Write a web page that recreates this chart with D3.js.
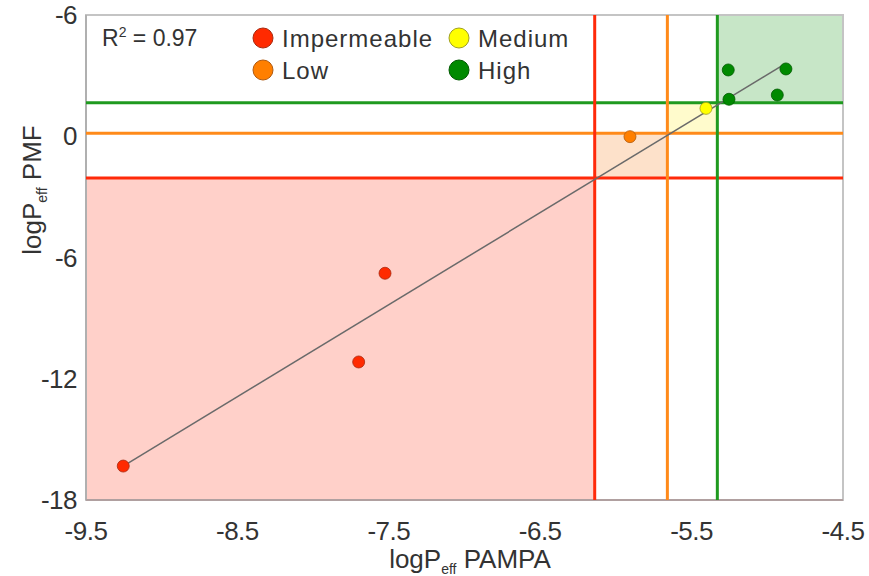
<!DOCTYPE html>
<html><head><meta charset="utf-8">
<script src="https://cdn.jsdelivr.net/npm/d3@7"></script>
<style>
body{margin:0;background:#fff;}
text{font-family:"Liberation Sans",Arial,sans-serif;fill:#333;}
</style></head>
<body><svg id="c" width="869" height="576"></svg>
<script>
// ---- data ----
const xTicks = [-9.5, -8.5, -7.5, -6.5, -5.5, -4.5];
const xTickLabels = ["-9.5", "-8.5", "-7.5", "-6.5", "-5.5", "-4.5"];
const yTicks = [6, 0, -6, -12, -18];
const yTickLabels = ["-6", "0", "-6", "-12", "-18"];
const classes = ["Impermeable", "Low", "Medium", "High"];
const classColors = ["#ff2a00", "#ff7f00", "#ffff00", "#008a00"];
const thresholdX = [-6.14, -5.66, -5.33];   // red, orange, green
const thresholdY = [-2.07, 0.15, 1.66];     // red, orange, green
const pampaX = [-9.254, -7.699, -7.525, -5.907, -5.405, -5.258, -4.877, -5.253, -4.934];
const pmfY   = [-16.32, -11.17, -6.78, -0.02, 1.38, 3.28, 3.33, 1.83, 2.04];
const pointClass = [0, 0, 0, 1, 2, 3, 3, 3, 3];
const fitX = [-9.254, -4.883];
const fitY = [-16.32, 3.58];
const r2Label = "0.97";

// ---- layout ----
const svg = d3.select("#c");
const L = 86, R = 843, T = 15, B = 500;
const x = d3.scaleLinear().domain([-9.5, -4.5]).range([L, R]);
const y = d3.scaleLinear().domain([-18, 6]).range([B, T]);

const fillColors = ["#ffd0c9", "#fde1ca", "#fffbcc", "#c7e6c7"];
const lineColors = ["#ff2a0a", "#ff8a1a", "#1f9a1f"];
const strokeColors = ["#a82a10", "#b05a10", "#a0a020", "#005a00"];

// region fills
const regions = [
  {x0: -9.5, x1: thresholdX[0], y0: -18, y1: thresholdY[0]},
  {x0: thresholdX[0], x1: thresholdX[1], y0: thresholdY[0], y1: thresholdY[1]},
  {x0: thresholdX[1], x1: thresholdX[2], y0: thresholdY[1], y1: thresholdY[2]},
  {x0: thresholdX[2], x1: -4.5, y0: thresholdY[2], y1: 6}
];
svg.append("g").selectAll("rect").data(regions).join("rect")
  .attr("x", d => x(d.x0)).attr("width", d => x(d.x1) - x(d.x0))
  .attr("y", d => y(d.y1)).attr("height", d => y(d.y0) - y(d.y1))
  .attr("fill", (d, i) => fillColors[i]);

// frame
svg.append("rect").attr("x", L).attr("y", T).attr("width", R - L).attr("height", B - T)
  .attr("fill", "none").attr("stroke", "#c4c4c4").attr("stroke-width", 2);
svg.append("line").attr("x1", L).attr("x2", L).attr("y1", T).attr("y2", B)
  .attr("stroke", "#b0b0b0").attr("stroke-width", 2);
svg.append("line").attr("x1", L).attr("x2", R).attr("y1", B).attr("y2", B)
  .attr("stroke", "#b0a0a0").attr("stroke-width", 2);

// threshold lines
const g = svg.append("g");
thresholdY.forEach((v, i) => {
  g.append("line").attr("x1", L).attr("x2", R).attr("y1", y(v)).attr("y2", y(v))
    .attr("stroke", lineColors[i]).attr("stroke-width", 3);
});
thresholdX.forEach((v, i) => {
  g.append("line").attr("y1", T).attr("y2", B).attr("x1", x(v)).attr("x2", x(v))
    .attr("stroke", lineColors[i]).attr("stroke-width", 3);
});

// regression line
svg.append("path")
  .datum(fitX.map((d, i) => [d, fitY[i]]))
  .attr("d", d3.line().x(d => x(d[0])).y(d => y(d[1])))
  .attr("stroke", "#6a6a6a").attr("stroke-width", 1.5).attr("fill", "none");

// points
svg.append("g").selectAll("circle").data(pampaX.map((d, i) => ({x: d, y: pmfY[i], c: pointClass[i]})))
  .join("circle")
  .attr("cx", d => x(d.x)).attr("cy", d => y(d.y)).attr("r", 6)
  .attr("fill", d => classColors[d.c]).attr("stroke", d => strokeColors[d.c]).attr("stroke-width", 0.8);

// axes tick labels
svg.append("g").selectAll("text").data(xTicks).join("text")
  .attr("x", d => x(d)).attr("y", 540).attr("text-anchor", "middle")
  .attr("font-size", 26).attr("letter-spacing", -0.5)
  .text((d, i) => xTickLabels[i]);
svg.append("g").selectAll("text").data(yTicks).join("text")
  .attr("x", 77).attr("y", d => y(d) + 9).attr("text-anchor", "end")
  .attr("font-size", 26).attr("letter-spacing", -0.5)
  .text((d, i) => yTickLabels[i]);

// axis titles
const xt = svg.append("text").attr("x", 470).attr("y", 568).attr("text-anchor", "middle").attr("font-size", 26);
xt.append("tspan").text("logP");
xt.append("tspan").attr("font-size", 14).attr("dy", 6).text("eff");
xt.append("tspan").attr("dy", -6).text(" PAMPA");

const yt = svg.append("text").attr("transform", "translate(41,190) rotate(-90)")
  .attr("text-anchor", "middle").attr("font-size", 26);
yt.append("tspan").text("logP");
yt.append("tspan").attr("font-size", 14).attr("dy", 6).text("eff");
yt.append("tspan").attr("dy", -6).text(" PMF");

// R^2
const rt = svg.append("text").attr("x", 102).attr("y", 46).attr("font-size", 23);
rt.append("tspan").text("R");
rt.append("tspan").attr("font-size", 14).attr("dy", -9).text("2");
rt.append("tspan").attr("dy", 9).text(" = " + r2Label);

// legend
const legPos = [[263, 38], [263, 70], [459, 38], [459, 70]];
const lg = svg.append("g").selectAll("g").data(classes).join("g")
  .attr("transform", (d, i) => `translate(${legPos[i][0]},${legPos[i][1]})`);
lg.append("circle").attr("r", 10).attr("fill", (d, i) => classColors[i])
  .attr("stroke", (d, i) => strokeColors[i]).attr("stroke-width", 1);
lg.append("text").attr("x", 19).attr("y", 8.5).attr("font-size", 24).attr("letter-spacing", 1)
  .text(d => d);
</script></body></html>
